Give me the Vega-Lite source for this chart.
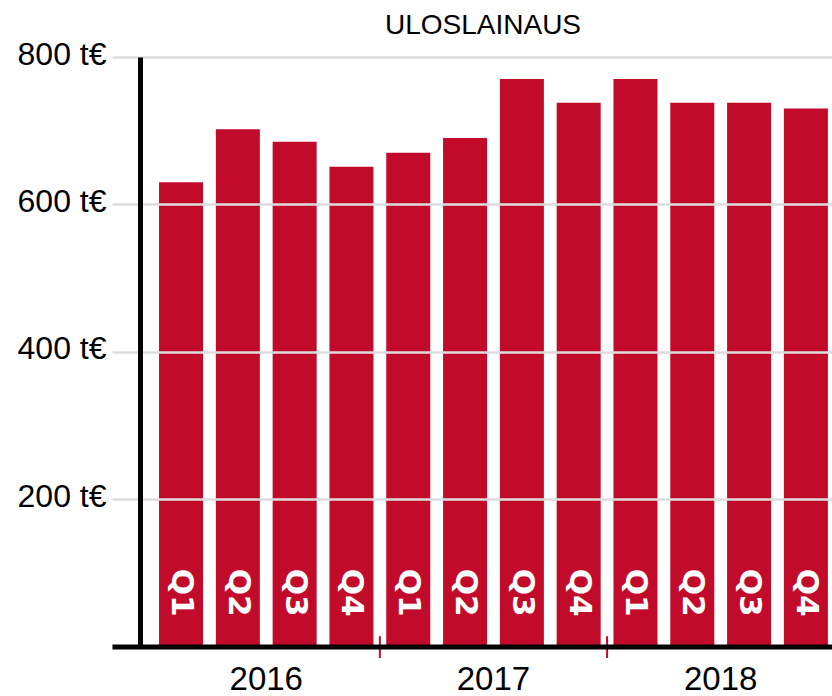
{
  "$schema": "https://vega.github.io/schema/vega-lite/v6.json",
  "autosize": {"type": "none"},
  "padding": {"left": 112, "top": 57, "right": 0, "bottom": 49.5},
  "width": 720,
  "height": 589.5,
  "background": "white",
  "title": {
    "text": "ULOSLAINAUS",
    "fontSize": 28,
    "font": "Liberation Sans",
    "fontWeight": "normal",
    "color": "black",
    "anchor": "middle",
    "frame": "group",
    "offset": -2,
    "dx": 11
  },
  "config": {"view": {"stroke": null}},
  "data": {
    "values": [
      {"year": "2016", "q": "Q1", "key": "2016-Q1", "value": 630},
      {"year": "2016", "q": "Q2", "key": "2016-Q2", "value": 702},
      {"year": "2016", "q": "Q3", "key": "2016-Q3", "value": 685},
      {"year": "2016", "q": "Q4", "key": "2016-Q4", "value": 651},
      {"year": "2017", "q": "Q1", "key": "2017-Q1", "value": 670},
      {"year": "2017", "q": "Q2", "key": "2017-Q2", "value": 690},
      {"year": "2017", "q": "Q3", "key": "2017-Q3", "value": 770},
      {"year": "2017", "q": "Q4", "key": "2017-Q4", "value": 738},
      {"year": "2018", "q": "Q1", "key": "2018-Q1", "value": 770},
      {"year": "2018", "q": "Q2", "key": "2018-Q2", "value": 738},
      {"year": "2018", "q": "Q3", "key": "2018-Q3", "value": 738},
      {"year": "2018", "q": "Q4", "key": "2018-Q4", "value": 730}
    ]
  },
  "encoding": {
    "x": {
      "field": "key",
      "type": "nominal",
      "sort": null,
      "scale": {"paddingInner": 0.225, "paddingOuter": 0.45, "align": 0.92},
      "axis": {
        "title": null,
        "labels": false,
        "ticks": false,
        "grid": false,
        "domainColor": "black",
        "domainWidth": 5,
        "zindex": 1
      }
    }
  },
  "layer": [
    {
      "mark": {"type": "bar", "color": "#c20b2b"},
      "encoding": {
        "y": {
          "field": "value",
          "type": "quantitative",
          "scale": {"domain": [0, 800], "nice": false},
          "axis": {
            "title": null,
            "values": [0, 200, 400, 600, 800],
            "labelExpr": "datum.value == 0 ? '' : datum.value + ' t€'",
            "labelFont": "Liberation Sans",
            "labelFontSize": 32,
            "labelColor": "black",
            "labelPadding": 34,
            "labelBaseline": "middle",
            "labelOffset": -3,
            "ticks": false,
            "grid": true,
            "gridColor": "#dcdcdc",
            "gridWidth": 2.5,
            "domainColor": "black",
            "domainWidth": 5,
            "offset": -28,
            "zindex": 1
          }
        }
      }
    },
    {
      "mark": {"type": "text", "angle": 90, "color": "white", "font": "DejaVu Sans", "fontWeight": "bold", "fontSize": 31, "align": "center", "baseline": "middle"},
      "encoding": {
        "y": {"datum": 73, "type": "quantitative"},
        "text": {"field": "q"}
      }
    },
    {
      "transform": [{"filter": "datum.q == 'Q2'"}],
      "mark": {"type": "text", "color": "black", "font": "Liberation Sans", "fontSize": 33, "align": "center", "baseline": "alphabetic"},
      "encoding": {
        "x": {"field": "key", "type": "nominal", "sort": null, "bandPosition": 1.145},
        "y": {"datum": -59, "type": "quantitative"},
        "text": {"field": "year"}
      }
    },
    {
      "transform": [{"filter": "datum.q == 'Q4' && datum.year != '2018'"}],
      "mark": {"type": "rule", "color": "#c20b2b", "strokeWidth": 2},
      "encoding": {
        "x": {"field": "key", "type": "nominal", "sort": null, "bandPosition": 1.145},
        "y": {"datum": 14, "type": "quantitative"},
        "y2": {"datum": -15.6}
      }
    }
  ]
}
